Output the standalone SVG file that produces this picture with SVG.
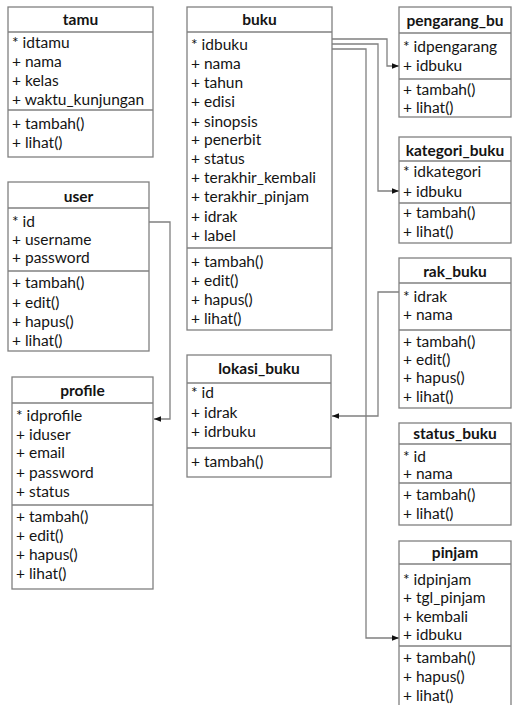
<svg xmlns="http://www.w3.org/2000/svg" width="513" height="705" viewBox="0 0 513 705">
  <style>
    .box { fill: #ffffff; stroke: #808080; stroke-width: 1.3; }
    .sep { stroke: #808080; stroke-width: 1.3; }
    .t { font-family: Lato, "Open Sans", "Liberation Sans", sans-serif; font-size: 15.5px; fill: #141414; }
    .h { font-family: Lato, "Open Sans", "Liberation Sans", sans-serif; font-size: 15.5px; font-weight: bold; fill: #141414; text-anchor: middle; }
    .link { fill: none; stroke: #808080; stroke-width: 1.3; }
  </style>
  <defs>
    <marker id="arrow" viewBox="0 0 10 10" refX="10" refY="5" markerWidth="7" markerHeight="7" markerUnits="userSpaceOnUse" orient="auto">
      <path d="M0,1 L10,5 L0,9 Z" fill="#111111"/>
    </marker>
  </defs>
  <rect width="513" height="705" fill="#ffffff"/>

  <!-- connectors -->
  <g id="connectors">
    <polyline class="link" points="149,222 170,222 170,419 154,419" marker-end="url(#arrow)"/>
    <polyline class="link" points="332,39 387,39 387,66 399,66" marker-end="url(#arrow)"/>
    <polyline class="link" points="332,44 378,44 378,191 399,191" marker-end="url(#arrow)"/>
    <polyline class="link" points="332,49 366,49 366,638 399,638" marker-end="url(#arrow)"/>
    <polyline class="link" points="399,292 378,292 378,416 332,416" marker-end="url(#arrow)"/>
  </g>

  <g id="tamu">
    <rect class="box" x="8" y="7" width="145" height="150"/>
    <line class="sep" x1="8" y1="32" x2="153" y2="32"/>
    <line class="sep" x1="8" y1="110" x2="153" y2="110"/>
    <text class="h" x="80.5" y="25">tamu</text>
    <text class="t" x="12" y="48">* idtamu</text>
    <text class="t" x="12" y="67">+ nama</text>
    <text class="t" x="12" y="86">+ kelas</text>
    <text class="t" x="12" y="105">+ waktu_kunjungan</text>
    <text class="t" x="12" y="129">+ tambah()</text>
    <text class="t" x="12" y="148">+ lihat()</text>
  </g>

  <g id="user">
    <rect class="box" x="8" y="182" width="141" height="169"/>
    <line class="sep" x1="8" y1="208" x2="149" y2="208"/>
    <line class="sep" x1="8" y1="271" x2="149" y2="271"/>
    <text class="h" x="78.5" y="202">user</text>
    <text class="t" x="12" y="227">* id</text>
    <text class="t" x="12" y="245">+ username</text>
    <text class="t" x="12" y="263">+ password</text>
    <text class="t" x="12" y="288">+ tambah()</text>
    <text class="t" x="12" y="308">+ edit()</text>
    <text class="t" x="12" y="327">+ hapus()</text>
    <text class="t" x="12" y="346">+ lihat()</text>
  </g>

  <g id="profile">
    <rect class="box" x="12" y="377" width="141" height="212"/>
    <line class="sep" x1="12" y1="403" x2="153" y2="403"/>
    <line class="sep" x1="12" y1="505" x2="153" y2="505"/>
    <text class="h" x="82.5" y="396">profile</text>
    <text class="t" x="16" y="421">* idprofile</text>
    <text class="t" x="16" y="440">+ iduser</text>
    <text class="t" x="16" y="458">+ email</text>
    <text class="t" x="16" y="478">+ password</text>
    <text class="t" x="16" y="497">+ status</text>
    <text class="t" x="16" y="522">+ tambah()</text>
    <text class="t" x="16" y="541">+ edit()</text>
    <text class="t" x="16" y="560">+ hapus()</text>
    <text class="t" x="16" y="579">+ lihat()</text>
  </g>

  <g id="buku">
    <rect class="box" x="187" y="7" width="145" height="323"/>
    <line class="sep" x1="187" y1="32" x2="332" y2="32"/>
    <line class="sep" x1="187" y1="248" x2="332" y2="248"/>
    <text class="h" x="259.5" y="25">buku</text>
    <text class="t" x="191" y="50">* idbuku</text>
    <text class="t" x="191" y="69">+ nama</text>
    <text class="t" x="191" y="88">+ tahun</text>
    <text class="t" x="191" y="107">+ edisi</text>
    <text class="t" x="191" y="127">+ sinopsis</text>
    <text class="t" x="191" y="145">+ penerbit</text>
    <text class="t" x="191" y="164">+ status</text>
    <text class="t" x="191" y="183">+ terakhir_kembali</text>
    <text class="t" x="191" y="202">+ terakhir_pinjam</text>
    <text class="t" x="191" y="222">+ idrak</text>
    <text class="t" x="191" y="241">+ label</text>
    <text class="t" x="191" y="267">+ tambah()</text>
    <text class="t" x="191" y="286">+ edit()</text>
    <text class="t" x="191" y="305">+ hapus()</text>
    <text class="t" x="191" y="324">+ lihat()</text>
  </g>

  <g id="lokasi_buku">
    <rect class="box" x="187" y="355" width="144" height="122"/>
    <line class="sep" x1="187" y1="383" x2="331" y2="383"/>
    <line class="sep" x1="187" y1="448" x2="331" y2="448"/>
    <text class="h" x="259" y="374">lokasi_buku</text>
    <text class="t" x="191" y="398">* id</text>
    <text class="t" x="191" y="418">+ idrak</text>
    <text class="t" x="191" y="437">+ idrbuku</text>
    <text class="t" x="191" y="467">+ tambah()</text>
  </g>

  <g id="pengarang_buku">
    <rect class="box" x="399" y="7" width="112" height="110"/>
    <line class="sep" x1="399" y1="33" x2="511" y2="33"/>
    <line class="sep" x1="399" y1="79" x2="511" y2="79"/>
    <text class="h" x="455" y="26">pengarang_bu</text>
    <text class="t" x="403" y="52">* idpengarang</text>
    <text class="t" x="403" y="71">+ idbuku</text>
    <text class="t" x="403" y="95">+ tambah()</text>
    <text class="t" x="403" y="113">+ lihat()</text>
  </g>

  <g id="kategori_buku">
    <rect class="box" x="399" y="137" width="112" height="106"/>
    <line class="sep" x1="399" y1="161" x2="511" y2="161"/>
    <line class="sep" x1="399" y1="203" x2="511" y2="203"/>
    <text class="h" x="455" y="156">kategori_buku</text>
    <text class="t" x="403" y="177">* idkategori</text>
    <text class="t" x="403" y="197">+ idbuku</text>
    <text class="t" x="403" y="218">+ tambah()</text>
    <text class="t" x="403" y="237">+ lihat()</text>
  </g>

  <g id="rak_buku">
    <rect class="box" x="399" y="258" width="112" height="150"/>
    <line class="sep" x1="399" y1="283" x2="511" y2="283"/>
    <line class="sep" x1="399" y1="330" x2="511" y2="330"/>
    <text class="h" x="455" y="277">rak_buku</text>
    <text class="t" x="403" y="302">* idrak</text>
    <text class="t" x="403" y="320">+ nama</text>
    <text class="t" x="403" y="347">+ tambah()</text>
    <text class="t" x="403" y="365">+ edit()</text>
    <text class="t" x="403" y="383">+ hapus()</text>
    <text class="t" x="403" y="402">+ lihat()</text>
  </g>

  <g id="status_buku">
    <rect class="box" x="399" y="423" width="112" height="102"/>
    <line class="sep" x1="399" y1="444" x2="511" y2="444"/>
    <line class="sep" x1="399" y1="483" x2="511" y2="483"/>
    <text class="h" x="455" y="439">status_buku</text>
    <text class="t" x="403" y="462">* id</text>
    <text class="t" x="403" y="479">+ nama</text>
    <text class="t" x="403" y="500">+ tambah()</text>
    <text class="t" x="403" y="519">+ lihat()</text>
  </g>

  <g id="pinjam">
    <rect class="box" x="399" y="541" width="112" height="168"/>
    <line class="sep" x1="399" y1="564" x2="511" y2="564"/>
    <line class="sep" x1="399" y1="646" x2="511" y2="646"/>
    <text class="h" x="455" y="558">pinjam</text>
    <text class="t" x="403" y="585">* idpinjam</text>
    <text class="t" x="403" y="603">+ tgl_pinjam</text>
    <text class="t" x="403" y="622">+ kembali</text>
    <text class="t" x="403" y="640">+ idbuku</text>
    <text class="t" x="403" y="663">+ tambah()</text>
    <text class="t" x="403" y="682">+ hapus()</text>
    <text class="t" x="403" y="701">+ lihat()</text>
  </g>
</svg>
